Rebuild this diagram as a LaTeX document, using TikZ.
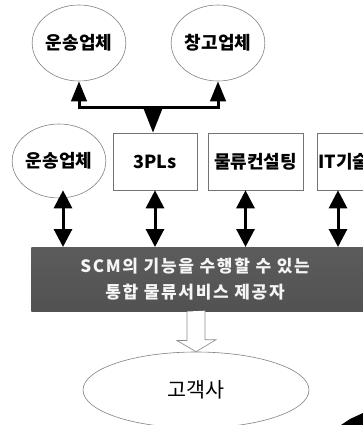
\documentclass[tikz,border=0pt]{standalone}
\usepackage{fontspec}
\newfontfamily\kr{Noto Sans CJK KR}
\newfontfamily\krs{Noto Sans CJK KR}[LetterSpace=10]
\usetikzlibrary{arrows.meta, shapes.geometric}
\begin{document}
\begin{tikzpicture}[x=0.75pt, y=-0.75pt,
  every node/.style={font=\kr},
  oval/.style={ellipse, draw=black!50, line width=0.45pt, minimum width=69pt, minimum height=57pt, inner sep=0pt, font=\kr\bfseries\fontsize{13.5}{16}\selectfont},
  boxnode/.style={rectangle, draw=black!55, line width=0.45pt, minimum height=42.75pt, inner sep=0pt, font=\kr\bfseries\fontsize{13.5}{16}\selectfont},
  sgl/.style={line width=2.25pt, -{Triangle[width=13.5pt,length=18pt]}},
  updn/.style={line width=2.25pt, {Triangle[width=11.5pt,length=15pt]}-{Triangle[width=11.5pt,length=15pt]}},
  dbl/.style={line width=2.25pt, {Triangle[width=13.5pt,length=13.5pt]}-{Triangle[width=13.5pt,length=13.5pt]}},
  banner/.style={rectangle, inner sep=0pt, top color=black!64, middle color=black!44, bottom color=black!68},
  hollow/.style={draw=black!45, line width=0.5pt, fill=white},
]
\useasboundingbox (0,0) rectangle (363,425);
\clip (0,0) rectangle (363,425);

% top row
\node[oval] (tl) at (79,43) {운송업체};
\node[oval] (tr) at (218,43) {창고업체};

% second row
\node[oval, minimum height=55.5pt] (ml) at (59,161) {운송업체};
\node[boxnode, minimum width=63pt] (pl) at (155,161.5) {3PLs};
\node[boxnode, minimum width=71.25pt] (cs) at (255.5,161.5) {물류컨설팅};
\node[boxnode, minimum width=71.25pt, anchor=west] (it) at (317,161.5) {};
\node[font=\kr\bfseries\fontsize{13.5}{16}\selectfont, anchor=west, inner sep=0pt] (itt) at ([xshift=1pt]it.west) {IT기술};

% top connector
\coordinate (hub) at (153,107);
\draw[updn] (tl.south) |- (hub) -| (tr.south);
\draw[sgl] (hub) -- (hub |- pl.north);

% banner
\node[banner, anchor=north west, minimum width=255pt, minimum height=48pt] (bn) at (31,247) {};
\node[text=black!4, font=\krs\bfseries\fontsize{12.75}{19.5}\selectfont, align=center, inner sep=0pt] (bt) at (195,279) {SCM의 기능을 수행할 수 있는\\통합 물류서비스 제공자};

% double arrows
\draw[dbl] ([xshift=3pt,yshift=6pt]ml.south) -- ([xshift=3pt]ml.south |- bn.north);
\draw[dbl] (pl.south) -- (pl.south |- bn.north);
\draw[dbl] ([xshift=-7.5pt]cs.south) -- ([xshift=-7.5pt]cs.south |- bn.north);
\draw[dbl] ([xshift=15.75pt]it.south west) -- ([xshift=15.75pt]it.south west |- bn.north);

% customer
\node[oval, minimum width=169.5pt, minimum height=57pt, font=\kr\fontsize{15.5}{18}\selectfont] (cu) at (196,390) {고객사};
\coordinate (hs) at (bn.south -| cu.north);
\draw[hollow] ([xshift=-6.75pt]hs) -- ++(0,29) -- ++(-10,0) -- (cu.north) -- ++(20,-12) -- ++(-11,0) -- ++(0,-29);

% scan smudge
\fill[black] (341,425) -- (350,419) -- (363,413) -- (363,425) -- cycle;
\end{tikzpicture}
\end{document}
